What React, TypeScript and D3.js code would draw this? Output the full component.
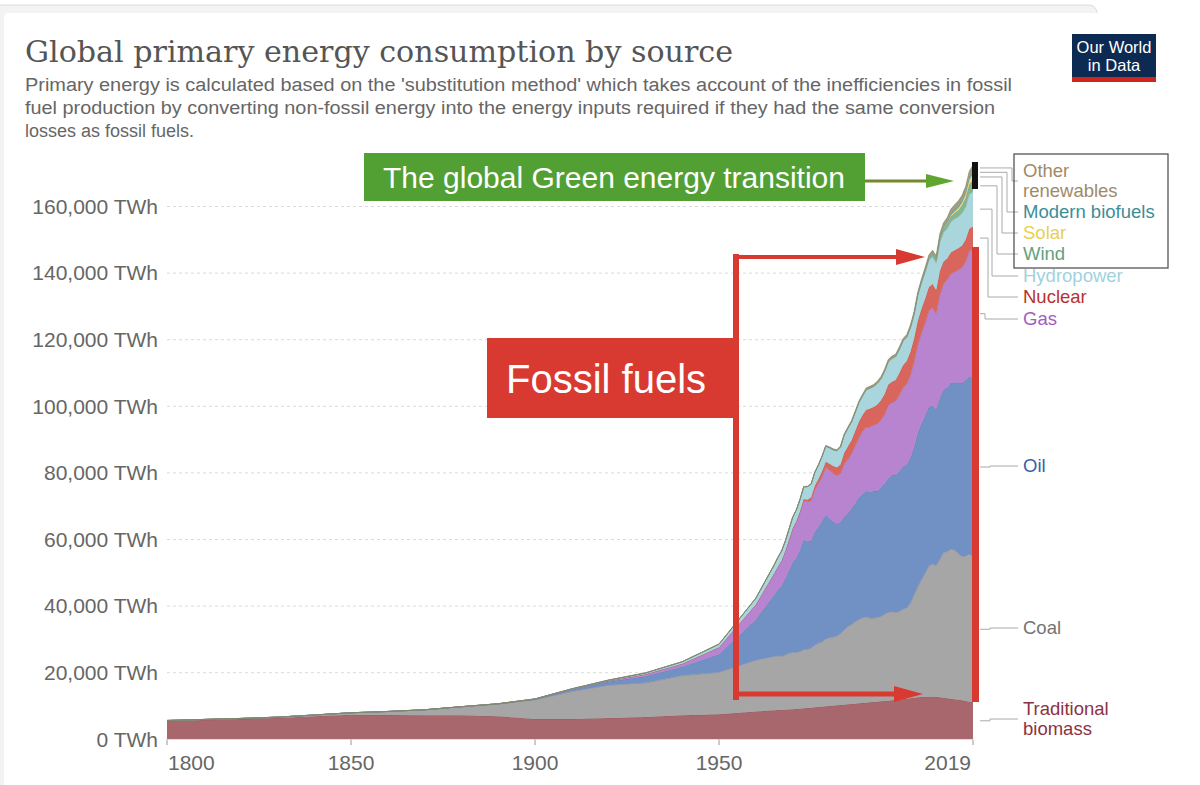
import React from 'react';
import * as d3 from 'd3';

// ---------- DATA ----------
const years = [
  1800, 1810, 1820, 1830, 1840, 1850, 1860, 1870, 1880, 1890, 1900, 1910, 1920, 1930, 1940, 1950, 1960,
  1965, 1966, 1967, 1968, 1969, 1970, 1971, 1972, 1973, 1974,
  1975, 1976, 1977, 1978, 1979, 1980, 1981, 1982, 1983, 1984,
  1985, 1986, 1987, 1988, 1989, 1990, 1991, 1992, 1993, 1994,
  1995, 1996, 1997, 1998, 1999, 2000, 2001, 2002, 2003, 2004,
  2005, 2006, 2007, 2008, 2009, 2010, 2011, 2012, 2013, 2014,
  2015, 2016, 2017, 2018, 2019,
];

const traditionalBiomass = [
  5556, 5833, 6111, 6389, 6944, 7400, 7300, 7222, 7222, 6944, 6111, 6111, 6389, 6667, 7222, 7500, 8333,
  8750, 8800, 8850, 8900, 8950, 9000, 9100, 9200, 9300, 9400,
  9500, 9600, 9700, 9800, 9900, 10000, 10100, 10200, 10300, 10400,
  10500, 10600, 10700, 10800, 10900, 11000, 11100, 11200, 11300, 11400,
  11500, 11600, 11700, 11800, 11900, 12000, 12150, 12300, 12450, 12600,
  12700, 12750, 12800, 12800, 12750, 12650, 12500, 12350, 12200, 12050,
  11900, 11700, 11500, 11300, 11111,
];

const coal = [
  97, 128, 153, 264, 356, 569, 1061, 1642, 2542, 3642, 5728, 8236, 9862, 10281, 11900, 12603, 15442,
  16140, 16300, 16050, 16400, 16900, 17100, 16950, 17150, 17650, 17600,
  17900, 18650, 19150, 19450, 20250, 20500, 20600, 20850, 21450, 22500,
  23400, 23850, 24600, 25200, 25600, 25800, 25300, 25200, 25300, 25500,
  26000, 26600, 26600, 26300, 26500, 27100, 27300, 28600, 31000, 33200,
  35300, 37200, 39200, 39900, 39400, 41400, 43700, 44000, 44900, 44800,
  43900, 43200, 43500, 44300, 43850,
];

const oil = [
  0, 0, 0, 0, 0, 0, 0, 6, 33, 89, 181, 569, 1097, 1972, 2700, 5444, 12200,
  18500, 19800, 21200, 22900, 24800, 27000, 28400, 30500, 33000, 32400,
  32200, 34000, 35000, 36200, 37300, 35900, 34600, 33700, 33400, 34000,
  33900, 34900, 35600, 36600, 37200, 37800, 37800, 38200, 38000, 38800,
  39300, 40200, 41100, 41300, 42200, 42800, 43100, 43600, 44400, 46200,
  46900, 47300, 47900, 47500, 46900, 48400, 48800, 49300, 49900, 50300,
  51300, 52100, 52900, 53300, 53600,
];

const gas = [
  0, 0, 0, 0, 0, 0, 0, 0, 0, 0, 64, 142, 233, 603, 875, 2092, 4500,
  6400, 6900, 7500, 8200, 9100, 10050, 10700, 11200, 11700, 11900,
  12000, 12600, 12900, 13400, 14200, 14400, 14500, 14400, 14600, 15700,
  16200, 16300, 17200, 17900, 18700, 19200, 19600, 19700, 20100, 20200,
  20800, 21800, 21700, 22100, 22800, 23700, 24100, 24800, 25500, 26400,
  27100, 27700, 28700, 29400, 28800, 31000, 31700, 32400, 32800, 33200,
  33800, 34600, 35500, 37700, 38500,
];

const nuclear = [
  0, 0, 0, 0, 0, 0, 0, 0, 0, 0, 0, 0, 0, 0, 0, 0, 0,
  70, 90, 110, 140, 160, 220, 300, 400, 530, 650,
  1000, 1180, 1430, 1670, 1720, 1930, 2250, 2450, 2800, 3350,
  3900, 4170, 4500, 4860, 4980, 5180, 5450, 5520, 5750, 5880,
  6100, 6310, 6290, 6400, 6630, 6750, 6950, 7050, 6990, 7240,
  7260, 7360, 7170, 7110, 6980, 7150, 6790, 6320, 6380, 6500,
  6540, 6610, 6640, 6750, 6920,
];

const hydropower = [
  0, 0, 0, 0, 0, 0, 0, 0, 0, 0, 50, 100, 200, 400, 600, 940, 1900,
  2560, 2750, 2830, 2990, 3140, 3280, 3430, 3560, 3620, 3930,
  4000, 4050, 4170, 4450, 4640, 4830, 4880, 5000, 5190, 5340,
  5430, 5490, 5530, 5720, 5720, 6000, 6140, 6130, 6410, 6470,
  6800, 6880, 6980, 7030, 7070, 7200, 7080, 7160, 7150, 7560,
  7750, 7960, 7980, 8230, 8190, 8680, 8720, 9030, 9250, 9440,
  9430, 9740, 9800, 10300, 10455,
];

const wind = [
  0, 0, 0, 0, 0, 0, 0, 0, 0, 0, 0, 0, 0, 0, 0, 0, 0,
  0, 0, 0, 0, 0, 0, 0, 0, 0, 0,
  0, 0, 0, 0, 0, 0, 0, 0, 0, 0,
  1, 2, 3, 5, 7, 10, 11, 13, 16, 20,
  24, 30, 38, 50, 63, 83, 105, 140, 170, 225,
  280, 350, 450, 580, 720, 890, 1100, 1310, 1600, 1750,
  2030, 2330, 2730, 3060, 3540,
];

const solar = [
  0, 0, 0, 0, 0, 0, 0, 0, 0, 0, 0, 0, 0, 0, 0, 0, 0,
  0, 0, 0, 0, 0, 0, 0, 0, 0, 0,
  0, 0, 0, 0, 0, 0, 0, 0, 0, 0,
  0, 0, 0, 0, 0, 1, 1, 1, 1, 1,
  1, 2, 2, 2, 3, 3, 4, 5, 6, 7,
  11, 15, 20, 32, 52, 85, 170, 260, 360, 490,
  630, 810, 1110, 1440, 1790,
];

const modernBiofuels = [
  0, 0, 0, 0, 0, 0, 0, 0, 0, 0, 0, 0, 0, 0, 0, 0, 0,
  0, 0, 0, 0, 0, 0, 0, 0, 0, 0,
  20, 25, 30, 40, 50, 60, 80, 100, 115, 125,
  130, 130, 135, 135, 140, 140, 145, 145, 150, 150,
  150, 145, 140, 130, 125, 120, 130, 150, 180, 210,
  240, 300, 380, 480, 540, 610, 610, 620, 680, 740,
  770, 790, 840, 920, 1000,
];

const otherRenewables = [
  0, 0, 0, 0, 0, 0, 0, 0, 0, 0, 0, 0, 0, 0, 0, 0, 0,
  60, 62, 65, 70, 80, 90, 95, 100, 105, 110,
  120, 130, 140, 160, 180, 200, 220, 240, 260, 280,
  300, 320, 340, 360, 390, 420, 440, 460, 480, 500,
  520, 540, 560, 570, 585, 600, 610, 630, 650, 690,
  720, 760, 800, 850, 900, 1000, 1050, 1100, 1170, 1230,
  1350, 1420, 1480, 1550, 1620,
];

const yTicks = [0, 20000, 40000, 60000, 80000, 100000, 120000, 140000, 160000];
const xTicks = [1800, 1850, 1900, 1950, 2019];

const seriesKeys = [
  'Traditional biomass', 'Coal', 'Oil', 'Gas', 'Nuclear',
  'Hydropower', 'Wind', 'Solar', 'Modern biofuels', 'Other renewables',
];
const seriesValues = [
  traditionalBiomass, coal, oil, gas, nuclear,
  hydropower, wind, solar, modernBiofuels, otherRenewables,
];

// ---------- STYLE / LAYOUT ----------
const fills: Record<string, string> = {
  'Traditional biomass': '#a7676d',
  Coal: '#a6a6a6',
  Oil: '#7190c3',
  Gas: '#b984cf',
  Nuclear: '#d9665d',
  Hydropower: '#a8d6dc',
  Wind: '#86b690',
  Solar: '#ecd97e',
  'Modern biofuels': '#6aa8ad',
  'Other renewables': '#a39d7c',
};
const labelColors: Record<string, string> = {
  'Traditional biomass': '#8c3243',
  Coal: '#737373',
  Oil: '#3b5ea8',
  Gas: '#a35cc0',
  Nuclear: '#b8322b',
  Hydropower: '#9fd2dc',
  Wind: '#5fa27d',
  Solar: '#e8cf4f',
  'Modern biofuels': '#3d8d98',
  'Other renewables': '#a08a68',
};
const labelLayout: Record<string, { lines: string[]; y: number; elbow: number }> = {
  'Other renewables': { lines: ['Other', 'renewables'], y: 171, elbow: 1012 },
  'Modern biofuels': { lines: ['Modern biofuels'], y: 212, elbow: 1007 },
  Solar: { lines: ['Solar'], y: 233, elbow: 1002 },
  Wind: { lines: ['Wind'], y: 254, elbow: 997 },
  Hydropower: { lines: ['Hydropower'], y: 276, elbow: 992 },
  Nuclear: { lines: ['Nuclear'], y: 297, elbow: 988 },
  Gas: { lines: ['Gas'], y: 319, elbow: 985 },
  Oil: { lines: ['Oil'], y: 466, elbow: 990 },
  Coal: { lines: ['Coal'], y: 628, elbow: 990 },
  'Traditional biomass': { lines: ['Traditional', 'biomass'], y: 709, elbow: 990 },
};

const W = 1200;
const H = 785;
const SANS = '"Liberation Sans", Arial, Helvetica, sans-serif';
const SERIF = '"DejaVu Serif", Georgia, "Liberation Serif", serif';
const RED = '#d83a32';

export default function App() {
  const x = d3.scaleLinear().domain([1800, 2019]).range([167, 973]);
  const y = d3.scaleLinear().domain([0, 160000]).range([739.3, 206.5]);

  const rows = years.map((yr, i) => {
    const r: any = { year: yr };
    seriesKeys.forEach((k, j) => (r[k] = seriesValues[j][i]));
    return r;
  });
  const stacked = d3.stack<any>().keys(seriesKeys)(rows);

  const area = d3
    .area<any>()
    .x((d) => x(d.data.year))
    .y0((d) => y(d[0]))
    .y1((d) => y(d[1]));
  const topLine = d3
    .line<any>()
    .x((d) => x(d.data.year))
    .y((d) => y(d[1]));

  const last = years.length - 1;
  const xEnd = x(2019);

  return (
    <svg
      width={W}
      height={H}
      viewBox={`0 0 ${W} ${H}`}
      style={{ position: 'absolute', left: 0, top: 0, background: '#fff' }}
    >
      {/* card background */}
      <rect x={0} y={0} width={W} height={H} fill="#fff" />
      <rect x={-10} y={5} width={1107} height={900} rx={8} fill="#f3f3f3" stroke="#dcdcdc" />
      <rect x={4} y={13} width={1300} height={900} rx={4} fill="#fff" />

      {/* title */}
      <text x={25} y={62} fontFamily={SERIF} fontSize={30} fill="#555" textLength={708} lengthAdjust="spacingAndGlyphs">
        Global primary energy consumption by source
      </text>
      <g fontFamily={SANS} fontSize={18} fill="#666">
        <text x={25} y={91} textLength={987} lengthAdjust="spacingAndGlyphs">
          Primary energy is calculated based on the 'substitution method' which takes account of the inefficiencies in fossil
        </text>
        <text x={25} y={114} textLength={970} lengthAdjust="spacingAndGlyphs">
          fuel production by converting non-fossil energy into the energy inputs required if they had the same conversion
        </text>
        <text x={25} y={137}>losses as fossil fuels.</text>
      </g>

      {/* logo */}
      <rect x={1072} y={34} width={84} height={44} fill="#0d2a52" />
      <rect x={1072} y={77} width={84} height={5} fill="#ce261e" />
      <text x={1114} y={53} textAnchor="middle" fontFamily={SANS} fontSize={16.5} fill="#fff">
        Our World
      </text>
      <text x={1114} y={71} textAnchor="middle" fontFamily={SANS} fontSize={16.5} fill="#fff">
        in Data
      </text>

      {/* grid + y labels */}
      {yTicks.map((t) => (
        <g key={t}>
          {t > 0 && (
            <line x1={167} x2={973} y1={y(t)} y2={y(t)} stroke="#dadada" strokeDasharray="3,3" />
          )}
          <text x={158} y={y(t)} dy="0.35em" textAnchor="end" fontFamily={SANS} fontSize={21} fill="#666">
            {d3.format(',')(t)} TWh
          </text>
        </g>
      ))}

      {/* stacked areas */}
      {stacked.map((s) => (
        <g key={s.key}>
          <path d={area(s) as string} fill={fills[s.key]} />
          <path
            d={topLine(s) as string}
            fill="none"
            stroke={d3.color(fills[s.key])!.darker(0.6).formatHex()}
            strokeWidth={0.8}
            strokeOpacity={0.8}
          />
        </g>
      ))}

      {/* x ticks + labels */}
      {xTicks.map((t, i) => (
        <g key={t}>
          <line x1={x(t)} x2={x(t)} y1={739.5} y2={745} stroke="#999" />
          <text
            x={i === 0 ? x(t) + 1 : i === xTicks.length - 1 ? x(t) - 2 : x(t)}
            y={770}
            textAnchor={i === 0 ? 'start' : i === xTicks.length - 1 ? 'end' : 'middle'}
            fontFamily={SANS}
            fontSize={21}
            fill="#666"
          >
            {t}
          </text>
        </g>
      ))}

      {/* legend connectors + labels */}
      {stacked.map((s) => {
        const lay = labelLayout[s.key];
        const midY = (y(s[last][0]) + y(s[last][1])) / 2;
        const targetY = lay.y + ((lay.lines.length - 1) * 20) / 2;
        return (
          <g key={'lab' + s.key}>
            <path
              d={`M${xEnd + 7},${midY}H${lay.elbow}V${targetY}H${1018}`}
              fill="none"
              stroke="#aaa"
              strokeWidth={1}
            />
            {lay.lines.map((ln, k) => (
              <text
                key={k}
                x={1023}
                y={lay.y + k * 20}
                dy="0.35em"
                fontFamily={SANS}
                fontSize={18.5}
                fill={labelColors[s.key]}
              >
                {ln}
              </text>
            ))}
          </g>
        );
      })}

      {/* legend box for renewables */}
      <rect x={1014} y={154} width={154} height={114} fill="none" stroke="#555" strokeWidth={1.3} />
      <rect x={972} y={162} width={6} height={27} fill="#111" />

      {/* green annotation */}
      <rect x={364} y={153} width={501} height={48} fill="#52a034" />
      <text x={614} y={188} textAnchor="middle" fontFamily={SANS} fontSize={30} fill="#fff">
        The global Green energy transition
      </text>
      <line x1={865} x2={930} y1={181} y2={181} stroke="#72892e" strokeWidth={3} />
      <polygon points="926,174 954,181 926,188" fill="#5ea62e" />

      {/* fossil fuels annotation */}
      <rect x={733} y={254} width={6} height={446} fill={RED} />
      <line x1={733} x2={900} y1={257} y2={257} stroke={RED} strokeWidth={4} />
      <polygon points="896,249 925,257 896,265" fill={RED} />
      <line x1={733} x2={898} y1={694} y2={694} stroke={RED} strokeWidth={5} />
      <polygon points="894,686 923,694 894,702" fill={RED} />
      <rect x={972} y={247} width={7} height={455} fill={RED} />
      <rect x={487} y={338} width={250} height={80} fill={RED} />
      <text x={606} y={393} textAnchor="middle" fontFamily={SANS} fontSize={40} fill="#fff">
        Fossil fuels
      </text>
    </svg>
  );
}
